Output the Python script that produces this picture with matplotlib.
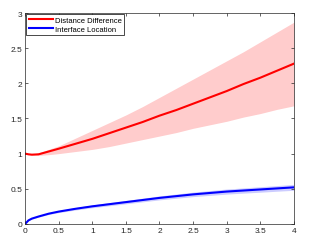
import matplotlib
matplotlib.use('Agg')
import matplotlib.pyplot as plt

plt.rcParams['font.family'] = ['Liberation Sans', 'DejaVu Sans']

# data
t = [0, 0.05, 0.1, 0.2, 0.35, 0.5, 0.75, 1.0, 1.25, 1.5, 1.75, 2.0, 2.25, 2.5, 2.75, 3.0, 3.25, 3.5, 3.75, 4.0]

dist_mean = [1.0, 0.99, 0.985, 0.99, 1.03, 1.07, 1.14, 1.21, 1.29, 1.37, 1.45, 1.54, 1.62, 1.71, 1.80, 1.89, 1.99, 2.08, 2.18, 2.28]
dist_hi = [1.0, 0.992, 0.99, 1.01, 1.06, 1.11, 1.22, 1.33, 1.44, 1.55, 1.67, 1.80, 1.93, 2.06, 2.19, 2.32, 2.45, 2.59, 2.73, 2.87]
dist_lo = [1.0, 0.988, 0.98, 0.975, 0.985, 1.0, 1.03, 1.06, 1.10, 1.15, 1.20, 1.25, 1.30, 1.36, 1.41, 1.46, 1.52, 1.57, 1.63, 1.68]

loc_mean = [0, 0.05, 0.075, 0.105, 0.145, 0.175, 0.215, 0.25, 0.28, 0.31, 0.34, 0.37, 0.395, 0.42, 0.44, 0.46, 0.475, 0.49, 0.505, 0.52]
loc_hi = [0, 0.054, 0.081, 0.114, 0.156, 0.189, 0.232, 0.27, 0.302, 0.334, 0.366, 0.398, 0.425, 0.452, 0.474, 0.496, 0.512, 0.529, 0.545, 0.562]
loc_lo = [0, 0.046, 0.069, 0.096, 0.134, 0.161, 0.198, 0.23, 0.258, 0.286, 0.314, 0.342, 0.365, 0.388, 0.406, 0.424, 0.438, 0.451, 0.465, 0.478]

fig = plt.figure(figsize=(3.1, 2.51), dpi=100)
ax = fig.add_axes([0.081, 0.104, 0.867, 0.84])

ax.fill_between(t, dist_lo, dist_hi, color=(1, 0.8, 0.8), lw=0)
ax.fill_between(t, loc_lo, loc_hi, color=(0.8, 0.8, 1), lw=0)
ax.plot(t, dist_mean, color='red', lw=1.5, label='Distance Difference')
ax.plot(t, loc_mean, color='blue', lw=1.5, label='Interface Location')

ax.set_xlim(0, 4)
ax.set_ylim(0, 3)
ax.set_xticks([0, 0.5, 1, 1.5, 2, 2.5, 3, 3.5, 4])
ax.set_xticklabels(['0', '0.5', '1', '1.5', '2', '2.5', '3', '3.5', '4'])
ax.set_yticks([0, 0.5, 1, 1.5, 2, 2.5, 3])
ax.set_yticklabels(['0', '0.5', '1', '1.5', '2', '2.5', '3'])
ax.tick_params(direction='in', length=2.5, width=0.5, labelsize=6, colors=(0.15, 0.15, 0.15),
               top=True, right=True, pad=2)
for s in ax.spines.values():
    s.set_color((0.15, 0.15, 0.15))
    s.set_linewidth(0.5)

leg = ax.legend(loc='upper left', fontsize=5.5, fancybox=False, framealpha=1,
                borderaxespad=0.15, handlelength=3.2, handletextpad=0.3,
                borderpad=0.3, labelspacing=0.25)
leg.get_frame().set_edgecolor('black')
leg.get_frame().set_linewidth(0.5)

fig.savefig('out.png', dpi=100)
